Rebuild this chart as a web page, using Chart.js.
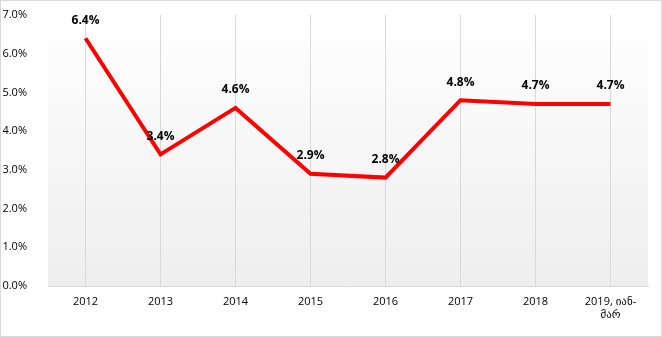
<!DOCTYPE html>
<html><head><meta charset="utf-8">
<script src="https://cdn.jsdelivr.net/npm/chart.js@4"></script>
<style>html,body{margin:0;padding:0;background:#fff;}#wrap{width:662px;height:337px;position:relative;}</style>
</head><body>
<div id="wrap"><canvas id="c" width="662" height="337"></canvas></div>
<script>
const categories = ['2012','2013','2014','2015','2016','2017','2018',['2019, იან-','მარ']];
const values = [6.4, 3.4, 4.6, 2.9, 2.8, 4.8, 4.7, 4.7];
const yTicks = [0,1,2,3,4,5,6,7];
const FONT = "'Open Sans','DejaVu Sans',sans-serif";

const bgPlugin = {
  id:'bg',
  beforeDraw(chart){
    const {ctx, chartArea:a} = chart;
    ctx.save();
    const g = ctx.createLinearGradient(0,a.top,0,a.bottom);
    g.addColorStop(0,'#ffffff');
    g.addColorStop(1,'#eeeeee');
    ctx.fillStyle = g;
    ctx.fillRect(a.left,a.top,a.right-a.left,a.bottom-a.top);
    ctx.restore();
  },
  afterDraw(chart){
    const ctx = chart.ctx;
    ctx.save();
    ctx.strokeStyle='#d9d9d9';ctx.lineWidth=1;
    ctx.strokeRect(0.5,0.5,chart.width-1,chart.height-1);
    ctx.restore();
  }
};
const labelPlugin = {
  id:'lbl',
  afterDatasetsDraw(chart){
    const {ctx} = chart;
    const meta = chart.getDatasetMeta(0);
    ctx.save();
    ctx.font = "bold 12px " + FONT;
    ctx.fillStyle = '#000';
    ctx.textAlign='center';ctx.textBaseline='middle';
    meta.data.forEach((p,i)=>{
      ctx.fillText(values[i].toFixed(1)+'%', p.x, p.y-18);
    });
    ctx.restore();
  }
};

new Chart(document.getElementById('c'),{
  type:'line',
  data:{labels:categories,datasets:[{data:values,borderColor:'#ff0000',borderWidth:4,pointRadius:0,tension:0,fill:false,borderJoinStyle:'miter'}]},
  options:{
    responsive:false,animation:false,
    layout:{padding:{left:0,right:14,top:15,bottom:0}},
    plugins:{legend:{display:false},tooltip:{enabled:false}},
    scales:{
      x:{offset:true,
        grid:{offset:false,color:'#d9d9d9',drawTicks:false},
        border:{color:'#d9d9d9'},
        ticks:{color:'#000',font:{family:FONT,size:11},padding:9,maxRotation:0,autoSkip:false},
        afterFit(s){s.height=51;s.paddingLeft=0;s.paddingRight=0;}
      },
      y:{min:0,max:7,
        afterBuildTicks(s){s.ticks=yTicks.map(v=>({value:v}));},
        grid:{display:false},
        border:{display:false},
        ticks:{color:'#000',font:{family:FONT,size:11},padding:13,callback:v=>v.toFixed(1)+'%'},
        afterFit(s){s.width=48;s.paddingTop=0;s.paddingBottom=0;}
      }
    }
  },
  plugins:[bgPlugin,labelPlugin]
});
</script>
</body></html>
